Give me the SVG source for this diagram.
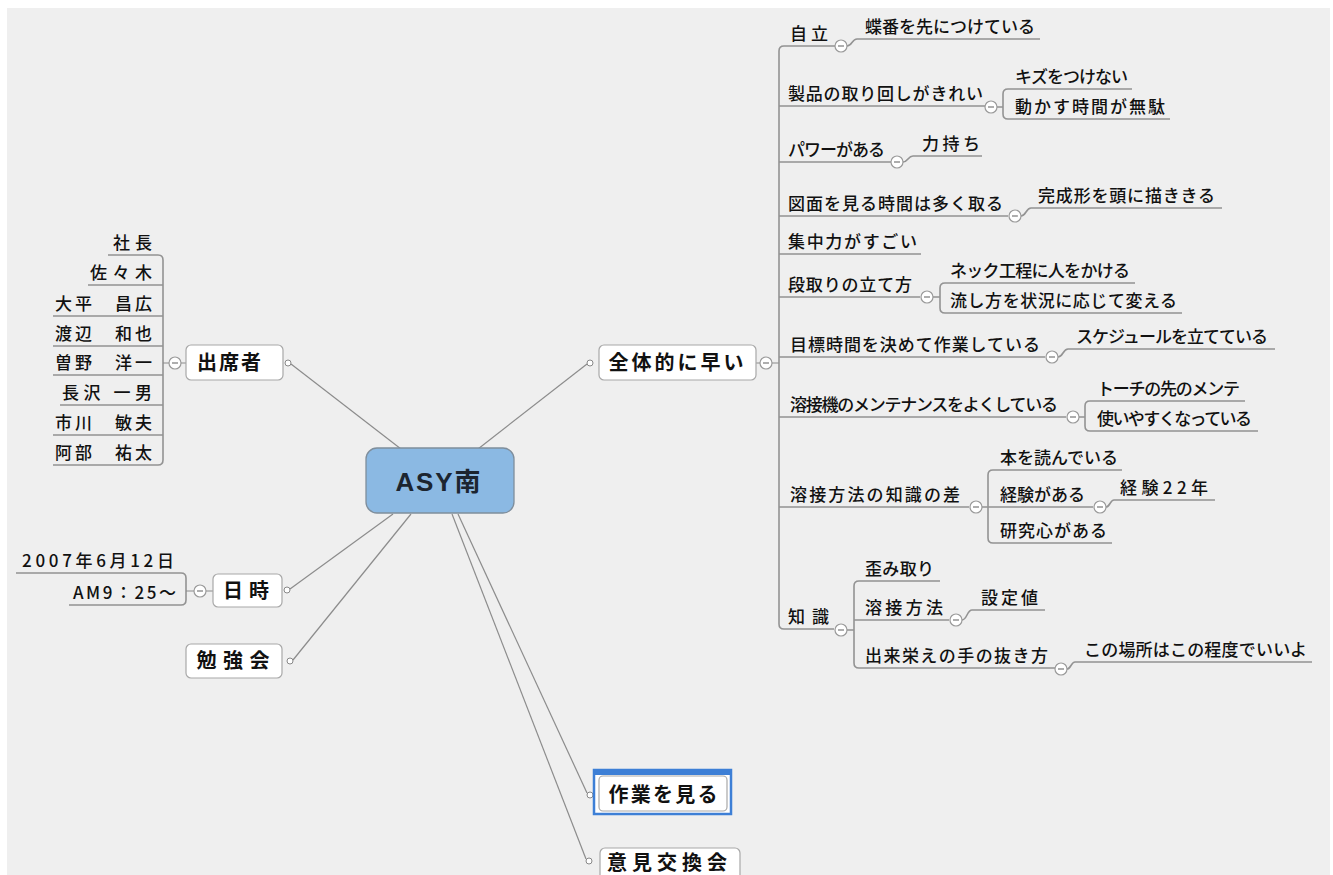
<svg xmlns="http://www.w3.org/2000/svg" width="1333" height="875" viewBox="0 0 1333 875">
<style>
.ul{stroke:#939393;stroke-width:1.6;fill:none}
.ln{stroke:#8c8c8c;stroke-width:1.2;fill:none}
.cc{fill:#fff;stroke:#9a9a9a;stroke-width:1.2}
.mn{stroke:#777;stroke-width:1.2}
.dot{fill:#fff;stroke:#888;stroke-width:1}
.box{fill:#fff;stroke:#a8a8a8;stroke-width:1.2}
.t{font-family:"Noto Sans CJK JP","Noto Sans CJK SC",sans-serif;font-size:17px;font-weight:500;fill:#111}
.tn{font-family:"Noto Sans CJK JP","Noto Sans CJK SC",sans-serif;font-size:20px;font-weight:bold;fill:#111;text-anchor:middle}
.e{text-anchor:end}
</style>
<defs>
<g id="col"><circle r="6" class="cc"/><line x1="-3" y1="0" x2="3" y2="0" class="mn"/></g>
</defs>
<rect width="1333" height="875" fill="#fff"/>
<rect x="7" y="8" width="1323" height="867" fill="#efefef"/>

<g id="connectors">
<line x1="401" y1="449" x2="291" y2="364" class="ln"/>
<line x1="478" y1="449" x2="587" y2="364" class="ln"/>
<line x1="393" y1="514" x2="290" y2="589" class="ln"/>
<line x1="411" y1="514" x2="293" y2="660" class="ln"/>
<line x1="458" y1="514" x2="587" y2="793" class="ln"/>
<line x1="452" y1="514" x2="586" y2="859" class="ln"/>
<path class="ul" d="M108,255 H158 Q163,255 163,260 V460 Q163,465 158,465 H53"/>
<path class="ul" d="M88,285 H163 M53,316 H163 M53,346 H163 M53,375 H163 M60,405 H163 M53,435 H163"/>
<path class="ln" d="M169,363 H163 M181,363 H186"/>
<path class="ul" d="M16,573 H181 Q186,573 186,578 V600 Q186,605 181,605 H69"/>
<path class="ln" d="M194,591 H186 M206,591 H213"/>
<path class="ln" d="M756,363 H760 M772,363 H779"/>
<path class="ul" d="M835,46 H784 Q779,46 779,51 V624 Q779,629 784,629 H834"/>
<path class="ul" d="M779,106 H985 M779,162 H891 M779,216 H1008 M779,254 H921 M779,297 H920 M779,357 H1045 M779,417 H1066 M779,507 H969"/>
<path class="ul" d="M847,46 C852,46 852,39 857,39 H1040"/>
<path class="ul" d="M997,107 H1003 M1008,89 Q1003,89 1003,94 V114 Q1003,119 1008,119 M1008,89 H1132 M1008,119 H1170"/>
<path class="ul" d="M903,162 C908,162 908,156 913,156 H982"/>
<path class="ul" d="M1021,216 C1026,216 1026,208 1031,208 H1222"/>
<path class="ul" d="M933,297 H940 M945,283 Q940,283 940,288 V308 Q940,313 945,313 M945,283 H1135 M945,313 H1182"/>
<path class="ul" d="M1058,357 C1063,357 1063,349 1068,349 H1275"/>
<path class="ul" d="M1079,417 H1085 M1090,401 Q1085,401 1085,406 V426 Q1085,431 1090,431 M1090,401 H1245 M1090,431 H1258"/>
<path class="ul" d="M982,507 H988 M993,470 Q988,470 988,475 V538 Q988,543 993,543 M993,470 H1122 M988,507 H1093 M993,543 H1112"/>
<path class="ul" d="M1106,507 C1110,507 1110,500 1114,500 H1215"/>
<path class="ul" d="M847,630 H854 M859,581 Q854,581 854,586 V663 Q854,668 859,668 M859,581 H940 M854,620 H949 M859,668 H1055"/>
<path class="ul" d="M962,620 C967,620 967,610 972,610 H1045"/>
<path class="ul" d="M1067,669 C1071,669 1071,662 1075,662 H1312"/>
<use href="#col" x="175" y="363"/>
<use href="#col" x="766" y="363"/>
<use href="#col" x="200" y="591"/>
<use href="#col" x="841" y="46"/>
<use href="#col" x="991" y="107"/>
<use href="#col" x="897" y="162"/>
<use href="#col" x="1015" y="216"/>
<use href="#col" x="927" y="297"/>
<use href="#col" x="1052" y="357"/>
<use href="#col" x="1073" y="417"/>
<use href="#col" x="976" y="507"/>
<use href="#col" x="1100" y="507"/>
<use href="#col" x="841" y="630"/>
<use href="#col" x="956" y="620"/>
<use href="#col" x="1061" y="669"/>
<circle cx="288" cy="363" r="3" class="dot"/>
<circle cx="590" cy="363" r="3" class="dot"/>
<circle cx="287" cy="590" r="3" class="dot"/>
<circle cx="290" cy="661" r="3" class="dot"/>
<circle cx="590" cy="795" r="3" class="dot"/>
<circle cx="589" cy="861" r="3" class="dot"/>
</g>

<g id="center">
<rect x="366" y="448" width="148" height="65" rx="11" fill="#8bb9e3" stroke="#7f8e9c" stroke-width="1.3"/>
<text x="438" y="491" textLength="85" style="font-family:'Liberation Sans','Noto Sans CJK JP',sans-serif;font-size:26px;font-weight:bold;fill:#1c2530;text-anchor:middle">ASY南</text>
</g>

<g id="attendees">
<rect x="186" y="345" width="97" height="35" rx="5" class="box"/>
<text x="229" y="370" textLength="64" class="tn">出席者</text>
</g>
<g id="names">
<text x="152" y="249" textLength="39" class="t e">社長</text>
<text x="152" y="279" textLength="62" class="t e">佐々木</text>
<text x="152" y="310" textLength="97" class="t e">大平　昌広</text>
<text x="152" y="340" textLength="97" class="t e">渡辺　和也</text>
<text x="152" y="369" textLength="97" class="t e">曽野　洋一</text>
<text x="152" y="399" textLength="90" class="t e">長沢 一男</text>
<text x="152" y="429" textLength="97" class="t e">市川　敏夫</text>
<text x="152" y="459" textLength="97" class="t e">阿部　祐太</text>
</g>

<g id="datetime">
<rect x="213" y="574" width="69" height="33" rx="5" class="box"/>
<text x="246" y="598" textLength="46" class="tn">日時</text>
<text x="174" y="567" textLength="152" class="t e">2007年6月12日</text>
<text x="176" y="599" textLength="103" class="t e">AM9：25～</text>
</g>

<g id="study">
<rect x="186" y="644" width="96" height="34" rx="5" class="box"/>
<text x="233" y="668" textLength="73" class="tn">勉強会</text>
</g>

<g id="fast">
<rect x="599" y="345" width="157" height="35" rx="5" class="box"/>
<text x="676" y="370" textLength="135" class="tn">全体的に早い</text>
</g>

<g id="items">
<text x="790" y="40" textLength="38" class="t">自立</text>
<text x="865" y="33" textLength="170" class="t">蝶番を先につけている</text>
<text x="788" y="100" textLength="195" class="t">製品の取り回しがきれい</text>
<text x="1015" y="83" textLength="113" class="t">キズをつけない</text>
<text x="1015" y="113" textLength="150" class="t">動かす時間が無駄</text>
<text x="788" y="156" textLength="97" class="t">パワーがある</text>
<text x="922" y="150" textLength="58" class="t">力持ち</text>
<text x="788" y="210" textLength="215" class="t">図面を見る時間は多く取る</text>
<text x="1038" y="202" textLength="177" class="t">完成形を頭に描ききる</text>
<text x="788" y="248" textLength="129" class="t">集中力がすごい</text>
<text x="788" y="291" textLength="124" class="t">段取りの立て方</text>
<text x="950" y="277" textLength="180" class="t">ネック工程に人をかける</text>
<text x="950" y="307" textLength="227" class="t">流し方を状況に応じて変える</text>
<text x="790" y="351" textLength="250" class="t">目標時間を決めて作業している</text>
<text x="1076" y="343" textLength="192" class="t">スケジュールを立てている</text>
<text x="790" y="411" textLength="268" class="t">溶接機のメンテナンスをよくしている</text>
<text x="1097" y="395" textLength="143" class="t">トーチの先のメンテ</text>
<text x="1097" y="425" textLength="155" class="t">使いやすくなっている</text>
<text x="790" y="501" textLength="170" class="t">溶接方法の知識の差</text>
<text x="1000" y="464" textLength="118" class="t">本を読んでいる</text>
<text x="1000" y="501" textLength="85" class="t">経験がある</text>
<text x="1120" y="494" textLength="88" class="t">経験22年</text>
<text x="1000" y="537" textLength="107" class="t">研究心がある</text>
<text x="788" y="623" textLength="41" class="t">知識</text>
<text x="865" y="575" textLength="69" class="t">歪み取り</text>
<text x="865" y="614" textLength="78" class="t">溶接方法</text>
<text x="981" y="604" textLength="57" class="t">設定値</text>
<text x="865" y="662" textLength="183" class="t">出来栄えの手の抜き方</text>
<text x="1084" y="656" textLength="223" class="t">この場所はこの程度でいいよ</text>
</g>

<g id="watch">
<rect x="594" y="770" width="137" height="44" fill="#fff" stroke="#3d7fd6" stroke-width="2.5"/>
<rect x="594" y="770" width="137" height="5" fill="#3d7fd6"/>
<rect x="599" y="776" width="128" height="35" rx="4" class="box"/>
<text x="663" y="802" textLength="109" class="tn">作業を見る</text>
</g>

<g id="exchange">
<rect x="600" y="848" width="140" height="40" rx="5" class="box"/>
<text x="667" y="870" textLength="120" class="tn">意見交換会</text>
</g>
</svg>
